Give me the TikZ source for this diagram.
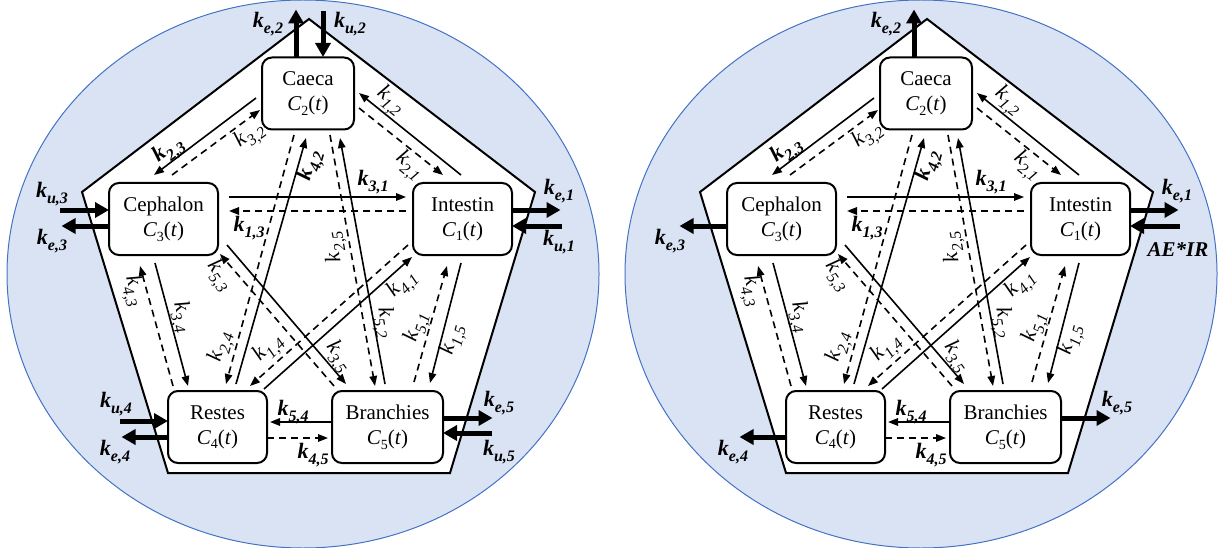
\documentclass[tikz,border=0pt]{standalone}
\usepackage{fontspec}
\setmainfont{Liberation Serif}
\usetikzlibrary{arrows.meta,calc}
\definecolor{bgblue}{RGB}{218,227,243}
\definecolor{rimblue}{RGB}{68,114,196}
\newcommand\kb[1]{{\bfseries\itshape k\raisebox{-0.3em}{\fontsize{16}{16}\selectfont #1}}}
\newcommand\kr[1]{{\itshape k\raisebox{-0.3em}{\fontsize{16}{16}\selectfont #1}}}
\newcommand\conc[1]{{\itshape C}\raisebox{-0.22em}{\fontsize{14}{14}\selectfont #1}(\textit{t})}
\newcommand\fishcore{%
  \draw[rimblue, fill=bgblue, line width=1pt] (303,274) ellipse [x radius=296, y radius=274];
  \draw[line width=2pt, fill=white, line join=miter] (309,19) -- (535,192) -- (450,473) -- (168,473) -- (82,192) -- cycle;
  \node[box, minimum width=92pt]  (C2) at (308,93.5) {Caeca\\\conc{2}};
  \node[box, minimum width=109pt] (C3) at (163.5,219) {Cephalon\\\conc{3}};
  \node[box, minimum width=99pt]  (C1) at (462.5,219) {Intestin\\\conc{1}};
  \node[box, minimum width=99pt]  (C4) at (217.5,427) {Restes\\\conc{4}};
  \node[box, minimum width=111pt] (C5) at (387.5,427) {Branchies\\\conc{5}};
  % connectors
  \draw[flow]  ($(C1.center)+(-1.5,-44)$) -- ($(C2.center)+(51,-0.5)$);
  \draw[dflow] ($(C2.center)+(51,14.5)$) -- ($(C1.center)+(-19.5,-44)$);
  \draw[flow]  ($(C2.center)+(-52,4.5)$) -- ($(C3.center)+(-9.5,-44)$);
  \draw[dflow] ($(C3.center)+(8.5,-44)$) -- ($(C2.center)+(-48,16.5)$);
  \draw[flow]  ($(C3.center)+(65.5,-22)$) -- ($(C1.center)+(-56.5,-22)$);
  \draw[dflow] ($(C1.center)+(-56.5,-8)$) -- ($(C3.center)+(65.5,-8)$);
  \draw[flow]  ($(C4.center)+(18.5,-43)$) -- ($(C2.center)+(-2,44.5)$);
  \draw[dflow] ($(C2.center)+(-14,41.5)$) -- ($(C4.center)+(8.5,-43)$);
  \draw[dflow] ($(C2.center)+(22,41.5)$) -- ($(C5.center)+(-12.5,-41)$);
  \draw[flow]  ($(C5.center)+(-2.5,-43)$) -- ($(C2.center)+(32,44.5)$);
  \draw[flow]  ($(C3.center)+(-8.5,44)$) -- ($(C4.center)+(-29.5,-41)$);
  \draw[dflow] ($(C4.center)+(-44.5,-41)$) -- ($(C3.center)+(-23.5,47)$);
  \draw[flow]  ($(C3.center)+(63.5,26)$) -- ($(C5.center)+(-41.5,-43)$);
  \draw[dflow] ($(C5.center)+(-53.5,-41)$) -- ($(C3.center)+(56.5,35)$);
  \draw[dflow] ($(C1.center)+(-54.5,26)$) -- ($(C4.center)+(32.5,-41)$);
  \draw[flow]  ($(C4.center)+(46.5,-38)$) -- ($(C1.center)+(-50.5,38)$);
  \draw[dflow] ($(C5.center)+(26.5,-45)$) -- ($(C1.center)+(-15.5,47)$);
  \draw[flow]  ($(C1.center)+(-1.5,44)$) -- ($(C5.center)+(42.5,-44)$);
  \draw[flow]  ($(C5.center)+(-55.5,-5)$) -- ($(C4.center)+(52.5,-5)$);
  \draw[dflow] ($(C4.center)+(49.5,11)$) -- ($(C5.center)+(-59.5,11)$);
  % labels
  \node[klab] (l31) at (373,182) {\kb{3,1}};
  \node[klab] (l13) at (249,228) {\kb{1,3}};
  \node[klab, rotate=-39] (l12) at (390,101) {\kr{1,2}};
  \node[klab, rotate=-39] (l21) at (409,166) {\kr{2,1}};
  \node[klab, rotate=37] (l23) at (169,151) {\kb{2,3}};
  \node[klab, rotate=37] (l32) at (250,136) {\kr{3,2}};
  \node[klab, rotate=74] (l42) at (311,166) {\kb{4,2}};
  \node[klab, rotate=100] (l25) at (335,247) {\kr{2,5}};
  \node[klab, rotate=-80] (l52) at (384,323) {\kr{5,2}};
  \node[klab, rotate=-75] (l34) at (181,317) {\kr{3,4}};
  \node[klab, rotate=-75] (l43) at (133,291) {\kr{4,3}};
  \node[klab, rotate=-55] (l53) at (219,276) {\kr{5,3}};
  \node[klab, rotate=-55] (l35) at (338,357) {\kr{3,5}};
  \node[klab, rotate=75] (l24) at (221,347) {\kr{2,4}};
  \node[klab, rotate=45] (l14) at (269,349) {\kr{1,4}};
  \node[klab, rotate=45] (l41) at (403,285) {\kr{4,1}};
  \node[klab, rotate=74] (l51) at (417,327) {\kr{5,1}};
  \node[klab, rotate=75] (l15) at (453,340) {\kr{1,5}};
  \node[klab] (l54) at (293,412) {\kb{5,4}};
  \node[klab] (l45) at (313,455) {\kb{4,5}};
  % common external arrows
  \draw[bigarrow] ($(C2.center)+(-12,-36.5)$) -- ($(C2.center)+(-12,-84)$);
  \node[klab] (le2) at (268,24) {\kb{e,2}};
  \draw[bigarrow] ($(C3.center)+(-54.5,7)$) -- ($(C3.center)+(-102,7)$);
  \node[klab] (le3) at (52,241) {\kb{e,3}};
  \draw[bigarrow] ($(C1.center)+(49.5,-9)$) -- ($(C1.center)+(98,-9)$);
  \node[klab] (le1) at (559,191) {\kb{e,1}};
  \draw[bigarrow] ($(C4.center)+(-49.5,10)$) -- ($(C4.center)+(-96,10)$);
  \node[klab] (le4) at (115,452) {\kb{e,4}};
  \draw[bigarrow] ($(C5.center)+(55.5,-9)$) -- ($(C5.center)+(105,-9)$);
  \node[klab] (le5) at (499,403) {\kb{e,5}};
}
\begin{document}
\begin{tikzpicture}[x=1pt,y=-1pt,
  box/.style={draw, line width=2pt, rounded corners=10pt, fill=white, minimum height=72pt,
    align=center, inner sep=0pt, font=\fontsize{21}{25}\selectfont},
  flow/.style={line width=1.6pt, -{Triangle[length=10pt,width=7.5pt]}},
  dflow/.style={flow, dash pattern=on 7pt off 5pt},
  bigarrow/.style={line width=5pt, -{Triangle[length=14pt,width=15pt]}},
  klab/.style={inner sep=0pt, font=\fontsize{22}{22}\selectfont}]
\useasboundingbox (0,0) rectangle (1220,548);
\begin{scope}[name prefix=L-]
  \fishcore
  \draw[bigarrow] ($(C2.center)+(15,-82)$) -- ($(C2.center)+(15,-36.5)$);
  \node[klab] (lu2) at (350,24) {\kb{u,2}};
  \draw[bigarrow] ($(C3.center)+(-103.5,-9)$) -- ($(C3.center)+(-54.5,-9)$);
  \node[klab] (lu3) at (52,194) {\kb{u,3}};
  \draw[bigarrow] ($(C1.center)+(99.5,7)$) -- ($(C1.center)+(49.5,7)$);
  \node[klab] (lu1) at (559,242) {\kb{u,1}};
  \draw[bigarrow] ($(C4.center)+(-97.5,-6)$) -- ($(C4.center)+(-49.5,-6)$);
  \node[klab] (lu4) at (116,404) {\kb{u,4}};
  \draw[bigarrow] ($(C5.center)+(104.5,6)$) -- ($(C5.center)+(55.5,6)$);
  \node[klab] (lu5) at (499,452) {\kb{u,5}};
\end{scope}
\begin{scope}[shift={(618,0)}, name prefix=R-]
  \fishcore
  \draw[bigarrow] ($(C1.center)+(99.5,7)$) -- ($(C1.center)+(49.5,7)$);
  \node[klab, font=\fontsize{21}{21}\selectfont\bfseries\itshape] (lae) at (560,250) {AE*IR};
\end{scope}
\end{tikzpicture}
\end{document}
